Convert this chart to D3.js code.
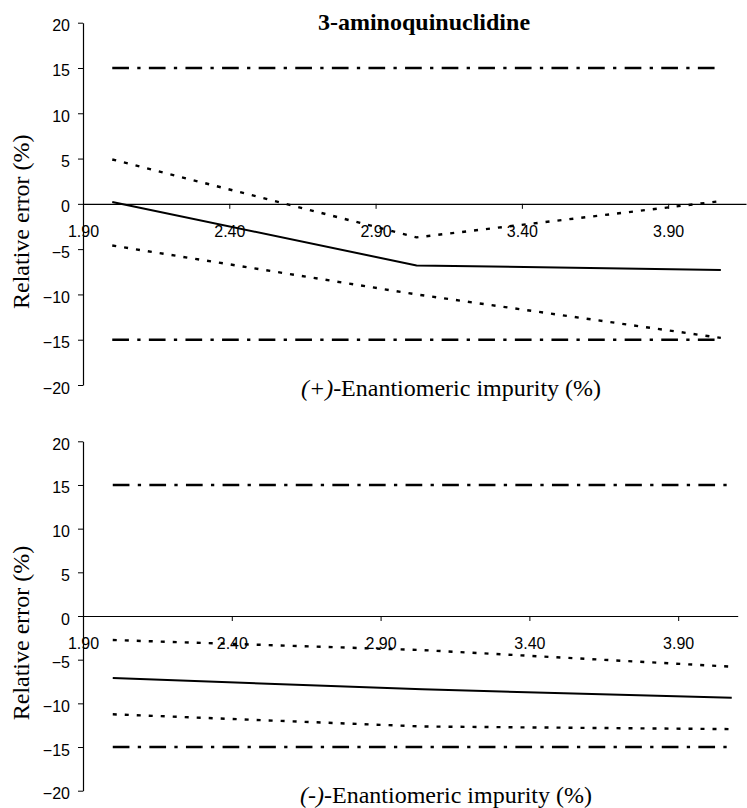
<!DOCTYPE html>
<html>
<head>
<meta charset="utf-8">
<script src="https://cdn.jsdelivr.net/npm/d3@7"></script>
<style>
  html, body { margin: 0; padding: 0; background: #fff; }
  svg { display: block; }
</style>
</head>
<body>
<svg id="chart" width="747" height="808"></svg>
<script>
// ---------------- data ----------------
const chartTitle = "3-aminoquinuclidine";
const yTitle = "Relative error (%)";
const xTickValues = [1.90, 2.40, 2.90, 3.40, 3.90];
const yTickValues = [20, 15, 10, 5, 0, -5, -10, -15, -20];
const impurity = [2.00, 3.04, 4.08];
const limitX = [2.00, 4.08];
const upperLimit = [15, 15];
const lowerLimit = [-15, -15];

// (+)-enantiomer panel
const plusMean  = [0.2, -6.8, -7.3];
const plusUpper = [4.9, -3.7, 0.3];
const plusLower = [-4.6, -10.0, -14.8];

// (-)-enantiomer panel
const minusMean  = [-7.1, -8.4, -9.35];
const minusUpper = [-2.75, -3.9, -5.8];
const minusLower = [-11.25, -12.65, -12.95];

// --------------- layout ----------------
const panels = [
  { prefix: "(+)", mean: plusMean, upper: plusUpper, lower: plusLower,
    xDomain: [1.90, 4.166], xRange: [83, 746], yRange: [385, 22.7],
    xTitleX: 451, xTitleY: 396, yTitleY: 221.7 },
  { prefix: "(-)", mean: minusMean, upper: minusUpper, lower: minusLower,
    xDomain: [1.90, 4.10], xRange: [83, 737.7], yRange: [790.7, 441.3],
    xTitleX: 446, xTitleY: 803, yTitleY: 633 }
];

const svg = d3.select("#chart");
const sans = "'Liberation Sans', Arial, sans-serif";
const serif = "'Liberation Serif', 'Times New Roman', serif";

svg.append("text")
  .attr("x", 424).attr("y", 30)
  .attr("text-anchor", "middle")
  .attr("font-family", serif).attr("font-weight", "bold").attr("font-size", 24)
  .text(chartTitle);

panels.forEach(p => {
  const x = d3.scaleLinear().domain(p.xDomain).range(p.xRange);
  const y = d3.scaleLinear().domain([-20, 20]).range(p.yRange);
  const g = svg.append("g");

  // y axis
  const yAxis = d3.axisLeft(y).tickValues(yTickValues).tickSize(5).tickSizeOuter(0)
    .tickFormat(d3.format("d"));
  const ya = g.append("g").attr("transform", `translate(${x(1.90)},0)`).call(yAxis);
  ya.select(".domain").attr("stroke", "#000").attr("stroke-width", 1.2);
  ya.selectAll(".tick line").attr("stroke", "#000");
  ya.selectAll(".tick text")
    .attr("font-family", sans).attr("font-size", 16).attr("fill", "#000")
    .attr("x", -13).attr("dy", "0.5em");

  // x axis along y=0
  const xAxis = d3.axisBottom(x).tickValues(xTickValues).tickSize(5).tickSizeOuter(0)
    .tickFormat(d3.format(".2f"));
  const xa = g.append("g").attr("transform", `translate(0,${y(0)})`).call(xAxis);
  xa.select(".domain").attr("stroke", "#000").attr("stroke-width", 1.2);
  xa.selectAll(".tick line").attr("stroke", "#000");
  xa.selectAll(".tick text")
    .attr("font-family", sans).attr("font-size", 16).attr("fill", "#000")
    .attr("y", 33).attr("dy", 0);

  // acceptance limits
  const limLine = d3.line().x((d, i) => x(limitX[i])).y(d => y(d));
  [upperLimit, lowerLimit].forEach(lim => {
    g.append("path").datum(lim)
      .attr("d", limLine)
      .attr("fill", "none").attr("stroke", "#000").attr("stroke-width", 2.6)
      .attr("stroke-dasharray", "16.7,8.3,3.3,8.3");
  });

  const line = d3.line().x((d, i) => x(impurity[i])).y(d => y(d));
  // confidence bounds (dotted)
  [p.upper, p.lower].forEach(arr => {
    g.append("path").datum(arr)
      .attr("d", line)
      .attr("fill", "none").attr("stroke", "#000").attr("stroke-width", 2.4)
      .attr("stroke-dasharray", "4,8");
  });
  // mean relative error (solid)
  g.append("path").datum(p.mean)
    .attr("d", line)
    .attr("fill", "none").attr("stroke", "#000").attr("stroke-width", 2);

  // axis titles
  const xt = g.append("text")
    .attr("x", p.xTitleX).attr("y", p.xTitleY)
    .attr("text-anchor", "middle")
    .attr("font-family", serif).attr("font-size", 24).attr("fill", "#000");
  xt.append("tspan").attr("font-style", "italic").text(p.prefix);
  xt.append("tspan").text("-Enantiomeric impurity (%)");

  g.append("text")
    .attr("transform", `translate(29,${p.yTitleY}) rotate(-90)`)
    .attr("text-anchor", "middle")
    .attr("font-family", serif).attr("font-size", 24).attr("fill", "#000")
    .text(yTitle);
});
</script>
</body>
</html>
